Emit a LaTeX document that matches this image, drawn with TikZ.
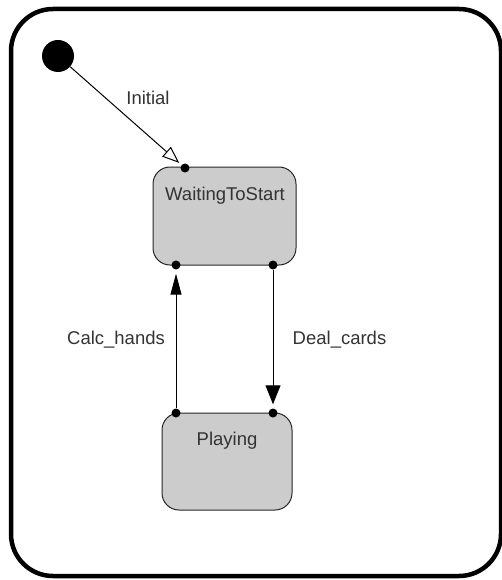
\documentclass[tikz,border=0pt]{standalone}
\usepackage{fontspec}
\setmainfont{Liberation Sans}
\usetikzlibrary{arrows.meta}
\begin{document}
\begin{tikzpicture}[x=1pt,y=-1pt,
  statebox/.style={draw=black!85, line width=1pt, fill={rgb,255:red,204;green,204;blue,204}, rounded corners=17pt, inner sep=0pt},
  dot/.style={circle, fill=black, inner sep=0pt, minimum size=9pt},
  txt/.style={font=\fontsize{18.5}{21}\selectfont, text=black!80, inner sep=0pt},
  conn/.style={line width=1pt, black}]
\useasboundingbox (0,0) rectangle (502,580);
% outer frame
\draw[line width=4.5pt, rounded corners=42pt] (11,9) rectangle (501,576);
% initial state
\node[circle, fill=black, minimum size=32pt, inner sep=0pt] (init) at (58,56) {};
% states
\node[statebox, minimum width=143pt, minimum height=98pt] (wait) at (224.5,216) {};
\node[txt] (waitlbl) at (225,196) {WaitingToStart};
\node[statebox, minimum width=130pt, minimum height=97pt] (play) at (227,461.5) {};
\node[txt] (playlbl) at (227,441) {Playing};
% ports
\node[dot] (w1) at (185,168) {};
\node[dot] (w2) at (176,265) {};
\node[dot] (w3) at (273,265) {};
\node[dot] (p1) at (176,413) {};
\node[dot] (p2) at (273,413) {};
% transitions
\draw[conn, -{Triangle[open, length=17pt, width=13pt]}, shorten >=3pt] (init) -- (w1);
\draw[conn, -{Triangle[length=21pt, width=11pt]}, shorten >=4pt] (p1) -- (w2);
\draw[conn, -{Triangle[length=19pt, width=15pt]}, shorten >=4pt] (w3) -- (p2);
% labels
\node[txt] (linit) at (148,98) {Initial};
\node[txt] (lcalc) at (116,340) {Calc\_hands};
\node[txt] (ldeal) at (339.5,340) {Deal\_cards};
\end{tikzpicture}
\end{document}
